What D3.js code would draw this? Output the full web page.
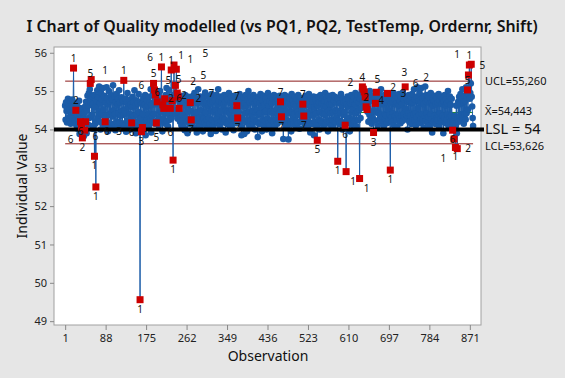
<!DOCTYPE html>
<html><head><meta charset="utf-8">
<script src="https://cdn.jsdelivr.net/npm/d3@7"></script>
<style>
html,body{margin:0;padding:0;background:#e6e6e6;}
svg{display:block;font-family:"Noto Sans","Open Sans",sans-serif;}
</style></head>
<body><svg id="c" width="565" height="378"></svg>
<script>
// Individual values (observation 1..878)
const values = [
54.62,54.25,54.71,54.48,54.18,54.55,54.80,54.30,54.66,54.21,
54.52,54.74,54.15,54.60,54.35,54.78,54.28,54.58,55.60,54.44,
54.70,54.23,54.62,54.50,54.11,54.68,54.37,54.02,54.58,54.26,
54.75,53.88,54.41,54.20,54.55,54.06,54.30,53.78,53.85,54.27,
53.82,54.44,53.98,54.60,54.20,54.72,53.90,54.50,54.88,54.13,
54.62,54.95,54.30,55.05,55.20,54.70,55.30,54.38,54.85,54.02,
54.66,54.10,54.90,53.30,54.58,54.15,52.50,54.75,54.22,55.02,
54.30,54.84,54.46,55.12,54.20,54.68,54.00,54.95,54.40,54.78,
54.15,55.08,54.52,54.35,54.88,54.08,54.20,54.70,54.32,55.10,
54.20,54.82,53.95,54.66,55.00,54.38,54.73,54.10,54.90,54.45,
54.05,54.78,54.34,55.15,54.50,54.15,54.86,54.40,53.98,54.70,
54.92,54.20,54.64,54.08,54.80,54.43,55.02,54.18,54.70,54.36,
54.02,54.84,54.48,54.16,54.75,54.38,55.28,54.52,54.10,54.80,
54.42,53.94,54.70,54.22,54.95,54.06,54.60,54.15,54.78,54.40,
54.00,54.66,54.30,54.17,54.58,54.85,54.10,54.72,54.35,55.02,
54.14,54.62,53.90,54.76,54.38,54.05,54.68,54.20,54.92,54.45,
54.10,49.56,54.72,54.30,53.94,54.66,54.05,54.40,54.82,54.00,
54.64,54.18,54.90,53.85,54.58,54.24,54.76,54.08,54.62,54.40,
54.85,54.12,54.70,54.26,55.05,53.92,54.64,54.35,54.90,54.20,
55.20,54.40,55.03,54.15,54.90,54.66,54.17,54.80,54.72,54.24,
54.95,54.10,54.68,54.30,55.00,54.20,54.78,55.63,54.46,53.95,
54.64,54.28,54.55,54.72,54.80,54.15,54.90,54.42,55.08,54.22,
54.70,54.08,54.86,54.40,55.02,54.25,54.55,54.78,55.55,54.30,
54.75,54.42,53.20,54.85,55.68,54.50,54.92,55.15,54.40,55.57,
54.80,54.95,54.28,54.85,54.46,54.55,54.72,54.20,54.88,54.32,
54.10,54.76,54.38,54.24,54.82,54.06,54.68,53.98,54.90,54.30,
54.62,54.20,54.78,53.90,54.46,54.85,54.25,54.66,54.14,54.70,
54.48,54.25,54.28,54.74,54.16,54.88,54.42,54.05,54.95,54.40,
54.22,54.80,54.45,53.92,54.68,54.26,55.05,54.15,54.72,54.30,
54.08,54.86,54.50,54.20,54.75,54.35,53.95,54.82,54.28,54.66,
54.18,54.96,54.44,54.10,54.70,54.25,54.88,54.02,54.62,54.30,
54.80,54.15,54.68,53.88,54.48,54.92,54.24,54.72,54.10,54.85,
54.45,54.20,54.76,54.52,53.96,54.90,54.28,54.66,54.16,55.05,
54.42,54.74,54.10,54.86,54.48,54.22,54.70,54.00,54.82,54.30,
54.64,54.18,54.90,54.26,54.72,53.92,54.50,54.84,54.14,54.46,
54.78,54.20,54.95,54.42,54.08,54.68,54.25,54.86,54.52,54.12,
54.74,54.30,53.98,54.88,54.48,54.20,54.70,54.45,54.16,54.62,
54.38,54.30,54.80,54.46,54.22,54.92,54.15,54.66,54.30,53.85,
54.72,54.05,54.60,54.84,54.24,53.88,54.68,54.42,54.90,54.18,
54.62,53.95,54.78,54.26,55.00,54.45,54.10,54.70,54.22,54.86,
54.40,54.08,54.74,54.48,54.16,54.90,54.25,54.66,54.00,54.80,
54.45,54.20,54.72,54.52,53.80,54.38,54.85,54.14,54.68,54.42,
54.92,54.18,54.60,53.95,54.76,54.26,54.88,54.10,54.64,54.45,
54.22,54.82,54.48,54.00,54.70,54.28,54.95,54.16,54.62,54.74,
54.10,54.46,54.86,54.24,54.68,53.90,54.80,54.42,54.20,54.90,
54.48,54.08,54.72,54.26,54.84,54.52,54.15,54.78,54.40,54.66,
54.20,54.88,54.45,54.72,54.50,54.33,54.82,54.25,54.70,53.75,
54.62,54.18,54.90,54.40,54.05,54.76,54.48,54.24,54.86,54.10,
53.74,54.68,54.42,54.80,54.20,54.62,53.95,54.92,54.45,54.26,
54.74,54.14,54.66,54.40,54.85,54.08,54.60,54.22,54.78,54.46,
54.16,54.90,54.38,54.70,54.02,54.64,54.82,54.20,54.48,54.75,
54.25,54.66,54.42,54.35,54.80,54.10,54.62,54.88,54.24,54.70,
54.45,54.06,54.76,54.38,54.92,54.18,54.64,53.92,54.82,54.40,
54.60,54.14,54.72,54.36,54.86,53.85,54.58,54.20,54.78,54.42,
54.66,54.10,53.72,54.62,54.85,54.25,54.70,54.00,54.46,54.90,
54.22,54.68,54.15,54.80,54.40,54.62,54.08,54.75,54.38,54.95,
54.16,54.60,54.84,54.24,54.72,53.95,54.48,54.88,54.20,54.65,
54.42,54.78,54.10,54.66,54.26,54.90,54.45,54.05,54.74,54.22,
54.85,54.50,54.18,54.70,54.30,54.82,53.17,54.48,54.24,54.76,
54.14,54.68,54.42,54.92,54.20,54.62,54.00,54.80,54.38,54.70,
54.46,54.10,54.11,54.74,52.90,54.64,54.25,54.86,54.16,54.60,
54.78,54.30,53.95,54.68,54.22,54.90,54.45,54.12,54.72,54.52,
54.26,54.84,54.20,54.66,54.95,54.42,54.08,54.76,54.48,54.88,
54.24,54.70,54.52,52.72,54.80,54.30,54.92,54.56,55.02,55.11,
54.75,55.05,54.82,54.98,54.70,54.85,54.62,54.59,54.78,54.52,
54.46,54.90,54.20,54.72,54.38,55.00,54.25,54.82,54.42,54.15,
54.76,54.30,54.88,53.92,54.50,54.80,54.24,54.68,54.72,54.97,
54.45,54.84,54.10,54.70,54.42,54.92,54.26,54.78,54.38,55.05,
54.20,54.66,54.85,54.32,54.74,54.08,54.90,54.40,54.28,54.80,
54.36,54.70,54.16,54.94,54.52,54.82,54.25,54.75,54.38,52.94,
54.68,54.30,54.86,54.20,54.72,54.42,54.95,54.10,54.78,54.35,
54.66,54.88,54.24,54.70,54.05,54.82,54.38,54.62,54.92,54.28,
54.74,54.16,54.85,54.35,54.66,54.22,54.96,54.40,54.78,54.30,
54.88,55.11,54.54,54.26,54.80,54.36,54.00,54.72,54.42,54.90,
54.20,54.76,54.35,54.86,54.14,54.68,54.92,54.28,54.70,54.38,
55.05,54.24,54.78,54.42,54.10,54.85,54.32,55.10,54.56,54.20,
54.74,54.38,54.95,54.16,54.70,54.28,55.08,54.40,54.82,54.25,
54.66,54.05,54.88,54.35,55.12,54.22,54.72,54.42,54.90,54.18,
54.76,54.32,54.84,54.10,54.68,54.38,54.95,54.26,54.70,53.92,
54.62,54.80,54.20,54.74,54.35,54.88,54.14,54.66,54.30,54.82,
54.24,54.70,54.38,54.92,54.08,54.76,54.42,54.28,54.85,54.20,
54.66,54.35,54.80,53.90,54.72,54.30,54.90,54.16,54.62,54.78,
54.25,54.68,54.38,55.00,54.10,54.74,54.32,54.86,54.20,54.64,
54.36,54.80,54.05,53.98,54.22,54.20,53.75,54.15,54.35,53.53,
54.10,54.62,53.90,53.50,54.28,54.72,54.20,54.85,54.35,54.66,
54.92,54.24,54.78,54.40,55.05,54.30,54.70,54.15,54.88,54.38,
54.74,54.26,55.10,54.42,54.84,55.03,54.52,55.42,54.90,55.68,
54.80,54.95,55.20,55.70,54.85,54.60,54.30,54.09
];
// Observations flagged by the tests, with the test number shown
const flaggedObs = [19,24,34,36,38,43,45,55,57,64,67,87,127,144,162,165,167,191,193,195,197,199,208,211,213,215,227,229,231,233,235,238,240,242,244,246,270,272,370,372,464,466,512,514,543,587,603,605,634,640,642,644,646,648,650,664,668,670,694,700,732,834,837,840,844,866,868,870,874];
const flagLabels = ["1","2","6","6","2","6","6","5","1","1","1","3","1","6","1","3","5","5","5","6","6","6","1","2","2","5","2","1","2","1","1","5","1","5","6","6","7","7","7","7","7","7","7","7","5","1","6","1","1","4","5","2","2","2","4","3","3","3","6","1","2","6","2","1","1","5","5","1","1"];
const xTicks = [1,88,175,262,349,436,523,610,697,784,871];
const yTicks = [49,50,51,52,53,54,55,56];
const UCL = 55.260, MEAN = 54.443, LCL = 53.626, LSL = 54;
const title = "I Chart of Quality modelled (vs PQ1, PQ2, TestTemp, Ordernr, Shift)";

const svg = d3.select("#c");
const L = 54, R = 481, T = 47, B = 325;
const n = values.length;
const x = d3.scaleLinear().domain([-23, 895]).range([L, R]);
const y = d3.scaleLinear().domain([48.9, 56.15]).range([B, T]);
const blue = "#1b5ca8", red = "#cc0000", lim = "#8b1a1a";

svg.append("rect").attr("width",565).attr("height",378).attr("fill","#e6e6e6");
svg.append("rect").attr("x",L).attr("y",T).attr("width",R-L).attr("height",B-T)
  .attr("fill","#fff").attr("stroke","#a0a0a0").attr("stroke-width",1);

svg.append("text").attr("x",282).attr("y",32).attr("text-anchor","middle")
  .attr("font-size",15.9).attr("font-weight",600).attr("fill","#111").text(title);

// axes
const ya = svg.append("g").attr("transform",`translate(${L},0)`)
  .call(d3.axisLeft(y).tickValues(yTicks).tickSize(4).tickPadding(3));
const xa = svg.append("g").attr("transform",`translate(0,${B})`)
  .call(d3.axisBottom(x).tickValues(xTicks).tickSize(5).tickPadding(4));
[ya, xa].forEach(g => {
  g.select(".domain").remove();
  g.selectAll("line").attr("stroke","#888");
  g.selectAll("text").attr("font-size",11).attr("fill","#222").attr("font-family","'Noto Sans',sans-serif");
});

svg.append("text").attr("x",268).attr("y",361).attr("text-anchor","middle")
  .attr("font-size",14).attr("fill","#111").text("Observation");
svg.append("text").attr("transform","translate(27,186) rotate(-90)").attr("text-anchor","middle")
  .attr("font-size",14).attr("fill","#111").text("Individual Value");

// control limits
const x0 = x(1), x1 = x(n);
svg.append("line").attr("x1",x0).attr("x2",x1).attr("y1",y(MEAN)).attr("y2",y(MEAN))
  .attr("stroke","#1e8c1e").attr("stroke-width",1);
[UCL, LCL].forEach(v => svg.append("line").attr("x1",x0).attr("x2",x1)
  .attr("y1",y(v)).attr("y2",y(v)).attr("stroke",lim).attr("stroke-width",1));

// data line and points
const pts = values.map((v,i) => ({obs:i+1, v}));
svg.append("path").datum(pts)
  .attr("d", d3.line().x(d=>x(d.obs)).y(d=>y(d.v)))
  .attr("fill","none").attr("stroke",blue).attr("stroke-width",1);
const flagSet = new Set(flaggedObs);
svg.append("g").selectAll("circle").data(pts.filter(d=>!flagSet.has(d.obs))).join("circle")
  .attr("cx",d=>x(d.obs)).attr("cy",d=>y(d.v)).attr("r",3.3).attr("fill",blue);

// LSL line
svg.append("line").attr("x1",L).attr("x2",484).attr("y1",y(LSL)).attr("y2",y(LSL))
  .attr("stroke","#000").attr("stroke-width",4);

// flagged points
const flags = flaggedObs.map((o,i) => ({obs:o, v:values[o-1], lab:flagLabels[i]}));
svg.append("g").selectAll("rect").data(flags).join("rect")
  .attr("x",d=>x(d.obs)-3.5).attr("y",d=>y(d.v)-3.5).attr("width",7).attr("height",7).attr("fill",red);

// label placement with simple collision avoidance
const placed = [];
const overlaps = (b) => placed.some(p => !(b.x1 <= p.x0 || b.x0 >= p.x1 || b.y1 <= p.y0 || b.y0 >= p.y1));
flags.forEach(d => {
  const up = d.v > MEAN;
  const px = x(d.obs), py = y(d.v);
  const baseY = up ? py - 6 : py + 13;
  const cands = [];
  [0, 10, 20, 30, 40].forEach(k => [0, 7, -7, 14, -14, 21, -21, 28, -28].forEach(dx => cands.push([dx, up ? -k : k])));
  let pos = null;
  for (const [dx, dy] of cands) {
    const bx = px + dx, by = baseY + dy;
    if (by - 11 < 38 || bx + 4 > R + 8) continue;
    const b = {x0: bx - 4.5, x1: bx + 4.5, y0: by - 11.5, y1: by + 3.5};
    if (!overlaps(b)) { pos = [bx, by, b]; break; }
  }
  if (!pos) pos = [px, baseY, {x0: px - 4.5, x1: px + 4.5, y0: baseY - 11.5, y1: baseY + 3.5}];
  placed.push(pos[2]);
  d.lx = pos[0]; d.ly = pos[1];
});
svg.append("g").selectAll("text").data(flags).join("text")
  .attr("x",d=>d.lx).attr("y",d=>d.ly)
  .attr("text-anchor","middle").attr("font-size",10).attr("fill","#111").text(d=>d.lab);

// right labels
const rl = svg.append("g").attr("fill","#111");
rl.append("text").attr("x",485).attr("y",y(UCL)+4).attr("font-size",11).text("UCL=55,260");
rl.append("text").attr("x",485).attr("y",y(MEAN)+3).attr("font-size",11).text("X\u0304=54,443");
rl.append("text").attr("x",485).attr("y",y(LSL)+5).attr("font-size",14.5).text("LSL = 54");
rl.append("text").attr("x",485).attr("y",y(LCL)+6).attr("font-size",11).text("LCL=53,626");
</script></body></html>
